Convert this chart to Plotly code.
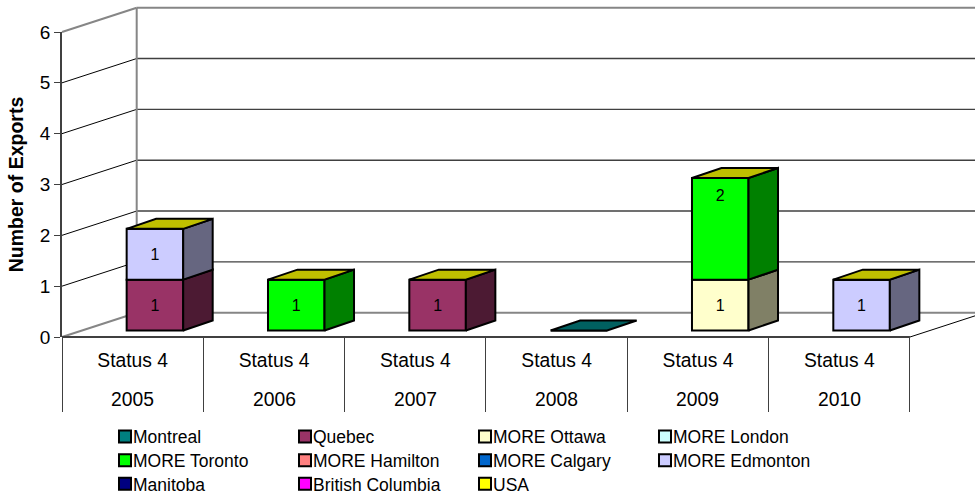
import plotly.graph_objects as go

years = ["2005", "2006", "2007", "2008", "2009", "2010"]
status = ["Status 4"] * 6
y_ticks = [0, 1, 2, 3, 4, 5, 6]

series_names = ["Montreal", "Quebec", "MORE Ottawa", "MORE London", "MORE Toronto", "MORE Hamilton",
                "MORE Calgary", "MORE Edmonton", "Manitoba", "British Columbia", "USA"]
series_colors = ["#008080", "#993366", "#FFFFCC", "#CCFFFF", "#00FF00", "#FF8080",
                 "#0066CC", "#CCCCFF", "#000080", "#FF00FF", "#FFFF00"]

montreal = [None, None, None, 0, None, None]
quebec = [1, None, 1, None, None, None]
ottawa = [None, None, None, None, 1, None]
london = [None] * 6
toronto = [None, 1, None, None, 2, None]
hamilton = [None] * 6
calgary = [None] * 6
edmonton = [1, None, None, None, None, 1]
manitoba = [None] * 6
bc = [None] * 6
usa = [0, 0, 0, None, 0, 0]
series_values = [montreal, quebec, ottawa, london, toronto, hamilton, calgary, edmonton, manitoba, bc, usa]

# geometry of the pseudo-3D projection (in data units)
UX, UY = 141.33, 50.83
MARGIN_R = 30
XMAX = (975 - 62 - MARGIN_R) / UX   # end of the x axis range
XEND = 913 / UX                     # where the back wall reaches the page edge
WALL_DX, WALL_DY = 74.7 / UX, 24.3 / UY
BAR_LEFT, BAR_W = 0.4575, 0.4
BAR_BASE = 6.5 / UY
BAR_DX, BAR_DY = 29.5 / UX, 10 / UY
FONT = "Liberation Sans, Arial, sans-serif"


def shade(hex_color, k):
    r, g, b = (int(hex_color[i:i + 2], 16) for i in (1, 3, 5))
    return f"rgb({round(r * k)},{round(g * k)},{round(b * k)})"


def wall_line(xs, ys, color, width):
    path = "M" + " L".join(f"{x / XMAX:.5f},{y / 6:.5f}" for x, y in zip(xs, ys))
    return dict(type="path", path=path, xref="paper", yref="paper", layer="below",
                line=dict(color=color, width=width))


shapes = []
for t in y_ticks:
    if t in (0, 6):
        continue
    shapes.append(wall_line([WALL_DX, XEND], [t + WALL_DY] * 2, "#404040", 1.4))
    shapes.append(wall_line([0, WALL_DX], [t, t + WALL_DY], "#000000", 1))
for t in (0, 6):
    shapes.append(wall_line([WALL_DX, XEND], [t + WALL_DY] * 2, "#868686", 2))
    shapes.append(wall_line([0, WALL_DX], [t, t + WALL_DY], "#868686", 2))
shapes.append(wall_line([WALL_DX, WALL_DX], [WALL_DY, 6 + WALL_DY], "#868686", 2))
shapes.append(wall_line([6, 6 + WALL_DX], [0, WALL_DY], "#000000", 1))
shapes.append(wall_line([0, 6], [0, 0], "#404040", 2))

fig = go.Figure()

# front faces: stacked bars, one trace per series
cum = [BAR_BASE] * 6
bases = []
for vals in series_values:
    base = []
    for i, v in enumerate(vals):
        base.append(cum[i])
        if v:
            cum[i] += v
    bases.append(base)

for name, color, vals, base in zip(series_names, series_colors, series_values, bases):
    fig.add_trace(go.Bar(
        name=name, x=[i + BAR_LEFT + BAR_W / 2 for i in range(6)], y=vals, base=base, width=BAR_W,
        marker=dict(color=color, line=dict(color="#000000", width=2)),
        cliponaxis=False, hoverinfo="skip",
    ))


def face(xs, ys, fill):
    fig.add_trace(go.Scatter(
        x=xs + xs[:1], y=ys + ys[:1], mode="lines", fill="toself", fillcolor=fill,
        line=dict(color="#000000", width=2), showlegend=False, cliponaxis=False, hoverinfo="skip",
    ))


label_x, label_y, label_t = [], [], []
for i in range(6):
    present = [k for k in range(len(series_values)) if series_values[k][i] is not None]
    for k in present:
        v = series_values[k][i]
        x0, x1 = i + BAR_LEFT, i + BAR_LEFT + BAR_W
        y0, y1 = bases[k][i], bases[k][i] + v
        if v:
            face([x1, x1 + BAR_DX, x1 + BAR_DX, x1], [y0, y0 + BAR_DY, y1 + BAR_DY, y1],
                 shade(series_colors[k], 0.5))
            label_x.append((x0 + x1) / 2)
            label_y.append(y1 - (0.53 if v == 1 else 0.37))
            label_t.append(str(v))
        if k == present[-1]:
            face([x0, x0 + BAR_DX, x1 + BAR_DX, x1], [y1, y1 + BAR_DY, y1 + BAR_DY, y1],
                 shade(series_colors[k], 0.75))

fig.add_trace(go.Scatter(
    x=label_x, y=label_y, text=label_t, mode="text", textposition="middle center",
    textfont=dict(family=FONT, size=16, color="#000000"),
    showlegend=False, cliponaxis=False, hoverinfo="skip",
))

year_labels = [dict(x=i + 0.5, y=0, xref="x", yref="y", yshift=-62, text=yr, showarrow=False,
                    font=dict(family=FONT, size=19.3, color="#000000")) for i, yr in enumerate(years)]

fig.update_layout(
    width=975, height=530, margin=dict(l=62, r=MARGIN_R, t=32, b=193),
    paper_bgcolor="#FFFFFF", plot_bgcolor="#FFFFFF",
    barmode="overlay", shapes=shapes, annotations=year_labels,
    font=dict(family=FONT, size=16, color="#000000"),
    showlegend=True,
    legend=dict(orientation="h", x=(105 - 62) / (975 - 62 - MARGIN_R), xanchor="left", y=-(420 - 337) / 305, yanchor="top",
                entrywidth=135, entrywidthmode="pixels", itemwidth=30, itemclick=False, itemdoubleclick=False,
                font=dict(family=FONT, size=17.5, color="#000000"), bgcolor="rgba(0,0,0,0)", traceorder="normal"),
    xaxis=dict(range=[0, XMAX], tickmode="array", tickvals=[i + 0.5 for i in range(6)],
               ticktext=status,
               ticks="", showgrid=False, zeroline=False, showline=False,
               ticklabelstandoff=10, tickfont=dict(family=FONT, size=19.3),
               minor=dict(tickmode="array", tickvals=list(range(7)), ticks="outside", ticklen=74,
                          tickcolor="#404040", tickwidth=1, showgrid=False)),
    yaxis=dict(range=[0, 6], tickmode="array", tickvals=y_ticks, ticks="outside", ticklen=6,
               tickcolor="#404040", tickwidth=1, showgrid=False, zeroline=False, showline=True,
               linecolor="#404040", linewidth=1.5, tickfont=dict(family=FONT, size=19),
               title=dict(text="<b>Number of Exports</b>", standoff=11, font=dict(family=FONT, size=19.5))),
)

post = """
document.documentElement.style.overflow='hidden';
document.body.style.margin='0';
document.body.style.overflow='hidden';
document.querySelectorAll('.legendtext').forEach(function(t){
  t.setAttribute('x', parseFloat(t.getAttribute('x')) - 12);
});
document.querySelectorAll('.legend .traces').forEach(function(g){
  var m = /translate\\(([-\\d.]+)[, ]+([-\\d.]+)\\)/.exec(g.getAttribute('transform'));
  if (m) { g.setAttribute('transform', 'translate(' + m[1] + ',' + (parseFloat(m[2]) * 23 / 25) + ')'); }
});
"""
fig.write_html("out.html", post_script=post, config={"displayModeBar": False})
